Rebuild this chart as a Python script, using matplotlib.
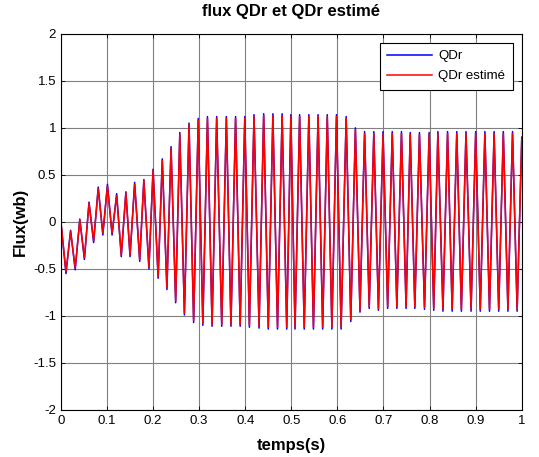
import matplotlib
matplotlib.use("Agg")
import matplotlib.pyplot as plt
import numpy as np

plt.rcParams['font.family'] = ['Liberation Sans', 'DejaVu Sans']

# extremum points (peaks / troughs), time in s
t = [0.000, 0.011, 0.021, 0.031, 0.041, 0.051, 0.061, 0.071, 0.081, 0.091,
     0.101, 0.111, 0.121, 0.131, 0.141, 0.150, 0.160, 0.171, 0.180, 0.191,
     0.200, 0.211, 0.220, 0.230, 0.239, 0.249, 0.258, 0.268, 0.278, 0.288,
     0.298, 0.308, 0.318, 0.328, 0.338, 0.349, 0.359, 0.369, 0.379, 0.389,
     0.399, 0.409, 0.419, 0.430, 0.440, 0.450, 0.460, 0.470, 0.480, 0.490,
     0.499, 0.508, 0.518, 0.528, 0.538, 0.548, 0.558, 0.568, 0.578, 0.588,
     0.598, 0.608, 0.619, 0.629, 0.639, 0.649, 0.659, 0.669, 0.679, 0.689,
     0.699, 0.709, 0.719, 0.729, 0.739, 0.749, 0.758, 0.768, 0.778, 0.789,
     0.799, 0.809, 0.818, 0.829, 0.839, 0.849, 0.859, 0.869, 0.879, 0.890,
     0.900, 0.910, 0.920, 0.930, 0.940, 0.950, 0.960, 0.970, 0.980, 0.990,
     1.000]

qdr = [0.00, -0.55, -0.09, -0.51, 0.03, -0.40, 0.21, -0.22, 0.37, -0.14,
       0.40, -0.14, 0.30, -0.37, 0.32, -0.37, 0.42, -0.42, 0.45, -0.50,
       0.56, -0.60, 0.67, -0.72, 0.80, -0.86, 0.95, -0.99, 1.05, -1.07,
       1.10, -1.10, 1.12, -1.11, 1.12, -1.11, 1.12, -1.11, 1.12, -1.11,
       1.12, -1.12, 1.14, -1.13, 1.15, -1.14, 1.15, -1.14, 1.15, -1.14,
       1.14, -1.14, 1.14, -1.14, 1.14, -1.14, 1.14, -1.14, 1.14, -1.14,
       1.14, -1.14, 1.12, -1.06, 1.00, -0.96, 0.96, -0.92, 0.96, -0.94,
       0.96, -0.92, 0.96, -0.92, 0.96, -0.92, 0.95, -0.92, 0.95, -0.93,
       0.95, -0.94, 0.96, -0.95, 0.96, -0.95, 0.96, -0.95, 0.96, -0.95,
       0.96, -0.95, 0.96, -0.95, 0.96, -0.95, 0.96, -0.95, 0.96, -0.95,
       0.90]

qdr_est = [0.00, -0.53, -0.10, -0.49, 0.02, -0.38, 0.20, -0.20, 0.35, -0.12,
           0.38, -0.12, 0.28, -0.35, 0.31, -0.35, 0.40, -0.40, 0.44, -0.48,
           0.55, -0.58, 0.65, -0.70, 0.78, -0.84, 0.93, -0.97, 1.03, -1.05,
           1.08, -1.08, 1.10, -1.09, 1.10, -1.09, 1.10, -1.09, 1.10, -1.09,
           1.10, -1.10, 1.12, -1.11, 1.13, -1.12, 1.13, -1.12, 1.13, -1.12,
           1.12, -1.12, 1.12, -1.12, 1.12, -1.12, 1.12, -1.12, 1.12, -1.12,
           1.12, -1.12, 1.10, -1.04, 0.98, -0.94, 0.94, -0.90, 0.94, -0.92,
           0.94, -0.90, 0.94, -0.90, 0.94, -0.90, 0.93, -0.90, 0.93, -0.91,
           0.93, -0.92, 0.94, -0.93, 0.94, -0.93, 0.94, -0.93, 0.94, -0.93,
           0.94, -0.93, 0.94, -0.93, 0.94, -0.93, 0.94, -0.93, 0.94, -0.93,
           0.88]

xticks = [0, 0.1, 0.2, 0.3, 0.4, 0.5, 0.6, 0.7, 0.8, 0.9, 1]
xlabels = ['0', '0.1', '0.2', '0.3', '0.4', '0.5', '0.6', '0.7', '0.8', '0.9', '1']
yticks = [-2, -1.5, -1, -0.5, 0, 0.5, 1, 1.5, 2]
ylabels = ['-2', '-1.5', '-1', '-0.5', '0', '0.5', '1', '1.5', '2']

fig = plt.figure(figsize=(5.39, 4.57), dpi=100)
ax = fig.add_axes([0.113, 0.103, 0.855, 0.823])

ax.plot(t, qdr, color='blue', linewidth=1.1, label='QDr')
ax.plot(t, qdr_est, color='red', linewidth=1.1, label='QDr estimé')

ax.set_xlim(0, 1)
ax.set_ylim(-2, 2)
ax.set_xticks(xticks)
ax.set_xticklabels(xlabels)
ax.set_yticks(yticks)
ax.set_yticklabels(ylabels)
ax.tick_params(direction='in', length=3, labelsize=9.5, top=True, right=True, width=0.6)
ax.grid(True, color='0.5', linewidth=0.8, linestyle='-')
ax.set_axisbelow(True)
for s in ax.spines.values():
    s.set_linewidth(0.8)

ax.set_title("flux QDr et QDr estimé", fontsize=12, fontweight='bold', pad=13)
ax.set_xlabel("temps(s)", fontsize=12, fontweight='bold', labelpad=8)
ax.set_ylabel("Flux(wb)", fontsize=12, fontweight='bold', labelpad=4)

leg = ax.legend(loc='upper right', bbox_to_anchor=(0.98, 0.976), borderaxespad=0,
                fontsize=9.5, fancybox=False, framealpha=1, edgecolor='black',
                handlelength=3.4, handletextpad=0.5, borderpad=0.55, labelspacing=0.6)
leg.get_frame().set_linewidth(0.8)

fig.savefig("out.png", dpi=100)
